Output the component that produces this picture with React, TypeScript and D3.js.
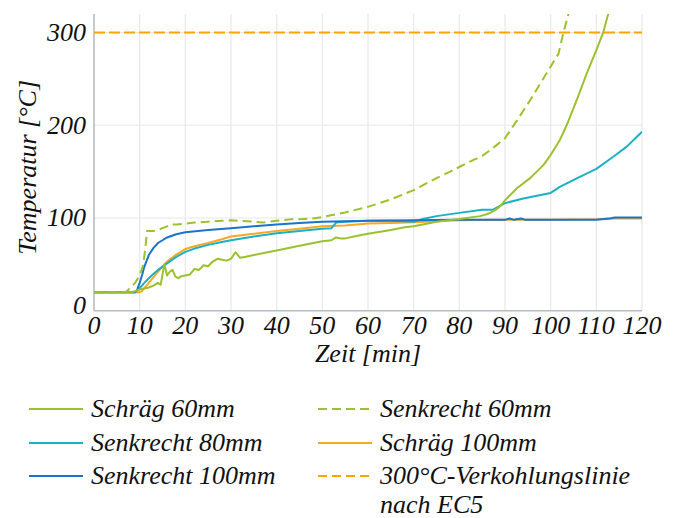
import React from "react";
import * as d3 from "d3";

const xTicks = [0, 10, 20, 30, 40, 50, 60, 70, 80, 90, 100, 110, 120];
const yTicks = [0, 100, 200, 300];

const schraeg60: [number, number][] = [
  [0, 20], [8, 20], [9, 21], [10, 23], [11, 24], [12, 25], [13, 27], [14, 30], [14.6, 28], [15.4, 50],
  [16, 38], [16.6, 42], [17.2, 44], [17.8, 37], [18.5, 35], [19, 37], [20, 38], [21, 39], [22, 45], [23, 44],
  [24, 49], [25, 48], [26, 53], [27, 56], [28, 55], [29, 54], [30, 56], [31, 63], [32, 57], [33, 58],
  [35, 60], [38, 63], [40, 65], [45, 70], [50, 75], [52, 76], [53, 79], [54, 78], [55, 78], [58, 81],
  [60, 83], [65, 87], [68, 90], [70, 91], [72, 93], [75, 96], [80, 99], [84.5, 102], [86, 104], [87, 106],
  [88, 109], [89, 113], [90, 119], [92.6, 132], [95.5, 143], [98.4, 157], [100, 168], [102, 184], [103.5, 200],
  [105.7, 227], [107.9, 256], [110, 281], [111.5, 300], [112.6, 320], [113, 326],
];

const senkrecht60: [number, number][] = [
  [0, 20], [7, 20], [8, 25], [9, 30], [10, 38], [10.8, 50], [11.3, 70], [11.6, 86], [12, 86], [13, 86],
  [14, 87], [15, 89], [16, 91], [17, 93], [18, 93], [20, 94], [22, 95], [25, 96], [28, 97], [30, 97.5],
  [32, 97], [35, 96], [37, 95], [40, 97], [43, 98.5], [45, 98.5], [48, 99.5], [50, 101], [53, 104], [55, 106],
  [60, 112], [65, 120], [70, 130], [75, 143], [78, 150], [80, 155], [82, 160], [85, 167], [86.7, 173], [88, 178],
  [90, 186], [92.6, 205], [95.5, 227], [99.1, 256], [101.7, 277], [102.8, 300], [103.9, 320], [104.1, 325],
];

const senkrecht80: [number, number][] = [
  [0, 20], [9, 20], [10, 24], [11, 30], [12, 35], [13, 39.5], [14, 44], [15, 47.5], [16, 51], [18, 58],
  [20, 63.5], [22, 67], [25, 71], [28, 74], [30, 76], [35, 80], [40, 83.5], [45, 86], [50, 88.5], [52, 89],
  [53, 95], [55, 96], [60, 97], [65, 97], [70, 96], [72, 99], [75, 102], [80, 105.5], [85, 109], [87.4, 109],
  [90, 116], [94, 121], [100, 127], [102, 133.6], [105.7, 142.7], [110, 153], [113.7, 166], [116.6, 176.7], [120, 193],
];

const schraeg100: [number, number][] = [
  [0, 20], [10, 20], [10.5, 21], [11, 24], [12, 30], [13, 36], [14, 42], [15, 47.5], [16, 53], [18, 60.5],
  [20, 66.5], [22, 69.5], [25, 73], [28, 77], [30, 80], [35, 83], [40, 86], [45, 88.5], [50, 91], [55, 92],
  [60, 94], [65, 94.5], [70, 95.5], [75, 96.5], [80, 97.5], [90, 98], [100, 98], [110, 98.5], [113, 99.5], [120, 99.5],
];

const senkrecht100: [number, number][] = [
  [0, 20], [9, 20], [9.5, 23], [10, 30], [10.5, 38], [11, 47], [12, 60], [13, 67.5], [14, 73], [15, 76],
  [16, 79], [18, 82.5], [20, 84.5], [25, 87], [30, 89], [35, 91], [40, 93], [45, 94.5], [50, 96], [55, 96.5],
  [60, 97], [70, 97.5], [80, 98], [90, 98], [91, 99.5], [92, 98], [93.5, 99.5], [94.5, 98], [100, 98], [110, 98],
  [113, 99.5], [114, 100.5], [120, 100.5],
];

const charLine: [number, number][] = [[0, 300], [120, 300]];

const seriesNames = [
  "Schräg 60mm", "Senkrecht 60mm", "Senkrecht 80mm", "Schräg 100mm", "Senkrecht 100mm", "300°C-Verkohlungslinie",
];

const GREEN = "#9BC22E";
const CYAN = "#1BB1C4";
const BLUE = "#1A74CC";
const ORANGE = "#F8A823";
const ORANGE_D = "#FCA500";

const W = 681, H = 518;
const L = 94, R = 642, T = 14, B = 310.7;
const FONT = '"Liberation Serif"';

export default function App() {
  const x = d3.scaleLinear().domain([0, 120]).range([L, R]);
  const y = d3.scaleLinear().domain([0, 320]).range([B, T]);
  const line = d3.line<[number, number]>().x(d => x(d[0])).y(d => y(d[1]));

  const series = [
    { name: seriesNames[0], data: schraeg60, color: GREEN, dash: undefined },
    { name: seriesNames[1], data: senkrecht60, color: GREEN, dash: "9 5" },
    { name: seriesNames[2], data: senkrecht80, color: CYAN, dash: undefined },
    { name: seriesNames[3], data: schraeg100, color: ORANGE, dash: undefined },
    { name: seriesNames[4], data: senkrecht100, color: BLUE, dash: undefined },
    { name: seriesNames[5], data: charLine, color: ORANGE_D, dash: "11 4" },
  ];
  const drawOrder = [3, 2, 4, 0, 1, 5];

  const legend = [
    { s: 0, col: 0, row: 0 }, { s: 1, col: 1, row: 0 },
    { s: 2, col: 0, row: 1 }, { s: 3, col: 1, row: 1 },
    { s: 4, col: 0, row: 2 }, { s: 5, col: 1, row: 2 },
  ];
  const colX = [29, 318];
  const rowY = [409, 443, 476];
  const txt: React.CSSProperties = { fontFamily: FONT, fontStyle: "italic" };

  return (
    <svg width={W} height={H} style={{ position: "absolute", left: 0, top: 0, background: "#fff" }}>
      <defs>
        <clipPath id="plotclip"><rect x={L} y={T} width={R - L} height={B - T} /></clipPath>
      </defs>
      {xTicks.map(t => (
        <line key={"gx" + t} x1={x(t)} x2={x(t)} y1={T} y2={B} stroke="#e8e8e8" strokeWidth={1.2} />
      ))}
      {yTicks.filter(t => t > 0).map(t => (
        <line key={"gy" + t} x1={L} x2={R} y1={y(t)} y2={y(t)} stroke="#e8e8e8" strokeWidth={1.2} />
      ))}
      <line x1={L} x2={L} y1={T} y2={B} stroke="#b5bcc4" strokeWidth={1.5} />
      <line x1={L} x2={R} y1={B} y2={B} stroke="#b5bcc4" strokeWidth={1.5} />
      <g clipPath="url(#plotclip)">
        {drawOrder.map(i => {
          const s = series[i];
          return <path key={s.name} d={line(s.data) || ""} fill="none" stroke={s.color}
            strokeWidth={2} strokeDasharray={s.dash} strokeLinejoin="round" />;
        })}
      </g>
      {yTicks.map(t => (
        <text key={"yl" + t} x={86} y={(t === 0 ? y(t) - 5 : y(t)) + 8.5} textAnchor="end"
          fontSize={26} fill="#111" style={txt}>{t}</text>
      ))}
      {xTicks.map(t => (
        <text key={"xl" + t} x={x(t)} y={334} textAnchor="middle" fontSize={26} fill="#111" style={txt}>{t}</text>
      ))}
      <text x={(L + R) / 2} y={362} textAnchor="middle" fontSize={26} fill="#111" style={txt}>Zeit [min]</text>
      <text transform={`translate(36, ${(T + B) / 2 + 5}) rotate(-90)`} textAnchor="middle" fontSize={26} fill="#111" style={txt}>
        Temperatur [°C]
      </text>
      {legend.map(({ s, col, row }) => {
        const sr = series[s];
        const lx = colX[col];
        const ly = rowY[row];
        return (
          <g key={"lg" + s}>
            <line x1={lx} x2={lx + 54} y1={ly} y2={ly} stroke={sr.color} strokeWidth={2}
              strokeDasharray={sr.dash ? "9 5" : undefined} />
            <text x={lx + 62} y={ly + 8} fontSize={26} fill="#111" style={txt}>{sr.name}</text>
            {s === 5 && (
              <text x={lx + 62} y={ly + 37} fontSize={26} fill="#111" style={txt}>nach EC5</text>
            )}
          </g>
        );
      })}
    </svg>
  );
}
